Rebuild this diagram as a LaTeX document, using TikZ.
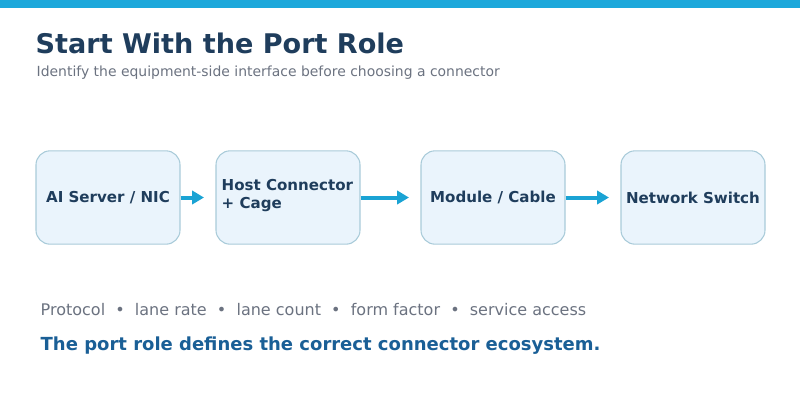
\documentclass[tikz,border=0pt]{standalone}
\usepackage{fontspec}
\setmainfont{DejaVu Sans}
\usetikzlibrary{arrows.meta}
\definecolor{bar}{HTML}{1DA8DB}
\definecolor{navy}{HTML}{1F3D5C}
\definecolor{sub}{HTML}{6B7280}
\definecolor{boxf}{HTML}{EAF4FC}
\definecolor{boxd}{HTML}{A9CBD9}
\definecolor{arr}{HTML}{1AA3D4}
\definecolor{emph}{HTML}{1A5F96}
\begin{document}
\begin{tikzpicture}[x=0.75pt,y=-0.75pt,
  box/.style={draw=boxd,fill=boxf,rounded corners=10.5pt,line width=0.8pt,minimum width=108pt,minimum height=70pt,inner sep=0pt,font=\bfseries\fontsize{11.3}{13.5}\selectfont,text=navy},
  con/.style={draw=arr,line width=3pt,-{Triangle[length=9pt,width=10pt]}}]
\useasboundingbox (0,0) rectangle (800,400);
\fill[bar] (0,0) rectangle (800,8);
\node[anchor=west,font=\bfseries\fontsize{20.3}{24}\selectfont,text=navy] (t) at (31,43) {Start With the Port Role};
\node[anchor=west,font=\fontsize{10.45}{12}\selectfont,text=sub] (s) at (32,73) {Identify the equipment-side interface before choosing a connector};
\node[box] (a) at (108,197.5) {AI Server / NIC};
\node[box] (b) at (288,197.5) {};
\node[anchor=west,align=left,font=\bfseries\fontsize{11.3}{13.5}\selectfont,text=navy] (bt) at (217,196) {Host Connector\\+ Cage};
\node[box] (c) at (493,197.5) {Module / Cable};
\node[box] (d) at (693,197.5) {Network Switch};
\coordinate (ae) at (204,197.5);
\coordinate (be) at (409,197.5);
\coordinate (ce) at (609,197.5);
\draw[con] (a.east) -- (ae);
\draw[con] (b.east) -- (be);
\draw[con] (c.east) -- (ce);
\node[anchor=west,font=\fontsize{12}{14}\selectfont,text=sub] (p) at (36,310) {Protocol \ \textbullet\ \ lane rate \ \textbullet\ \ lane count \ \textbullet\ \ form factor \ \textbullet\ \ service access};
\node[anchor=west,font=\bfseries\fontsize{13.5}{16}\selectfont,text=emph] (e) at (36,346) {The port role defines the correct connector ecosystem.};
\end{tikzpicture}
\end{document}
